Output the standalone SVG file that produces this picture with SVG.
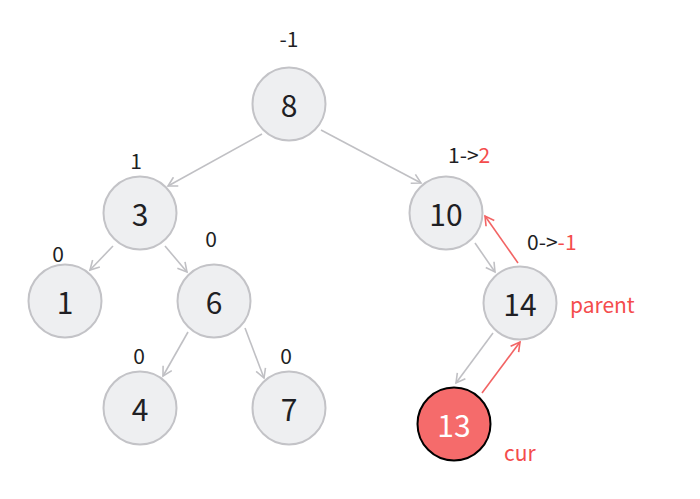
<svg xmlns="http://www.w3.org/2000/svg" width="700" height="499" viewBox="0 0 700 499">
<style>
.n circle{fill:#eeeff1;stroke:#c3c3c7;stroke-width:2}
.n text{font-family:"Noto Sans CJK SC","Noto Sans",sans-serif;font-size:30px;fill:#1f1f24;text-anchor:middle;dominant-baseline:central}
.e{stroke:#c0c0c4;stroke-width:1.6;fill:none;marker-end:url(#ag)}
.r{stroke:#f26464;stroke-width:1.6;fill:none;marker-end:url(#ar)}
.l{font-family:"Noto Sans CJK SC","Noto Sans",sans-serif;font-size:21px;fill:#1f1f24}
.red{fill:#f44c4c}
</style>
<defs>
<marker id="ag" viewBox="0 0 12 12" refX="10" refY="6" markerWidth="12" markerHeight="12" markerUnits="userSpaceOnUse" orient="auto"><path d="M1,1 L10,6 L1,11" fill="none" stroke="#c0c0c4" stroke-width="1.6"/></marker>
<marker id="ar" viewBox="0 0 12 12" refX="10" refY="6" markerWidth="12" markerHeight="12" markerUnits="userSpaceOnUse" orient="auto"><path d="M1,1 L10,6 L1,11" fill="none" stroke="#f26464" stroke-width="1.6"/></marker>
</defs>
<g id="edges">
<line class="e" x1="262" y1="134" x2="168" y2="186"/>
<line class="e" x1="321" y1="130" x2="421" y2="183"/>
<line class="e" x1="113" y1="246" x2="90" y2="270"/>
<line class="e" x1="165" y1="246" x2="187" y2="272"/>
<line class="e" x1="188" y1="332" x2="163" y2="376"/>
<line class="e" x1="245" y1="328" x2="264" y2="378"/>
<line class="e" x1="475" y1="243" x2="495" y2="272"/>
<line class="e" x1="493" y1="333" x2="456" y2="383"/>
<line class="r" x1="482" y1="393" x2="520" y2="342"/>
<line class="r" x1="518" y1="263" x2="485" y2="216"/>
</g>
<g id="n8" class="n"><circle cx="289" cy="104" r="36.5"/><text x="289" y="104">8</text></g>
<g id="n3" class="n"><circle cx="140" cy="213" r="36.5"/><text x="140" y="213">3</text></g>
<g id="n10" class="n"><circle cx="446" cy="213" r="36.5"/><text x="446" y="213">10</text></g>
<g id="n1" class="n"><circle cx="65" cy="301" r="36.5"/><text x="65" y="301">1</text></g>
<g id="n6" class="n"><circle cx="214" cy="301" r="36.5"/><text x="214" y="301">6</text></g>
<g id="n14" class="n"><circle cx="520" cy="303" r="36.5"/><text x="520" y="303">14</text></g>
<g id="n4" class="n"><circle cx="140" cy="408" r="36.5"/><text x="140" y="408">4</text></g>
<g id="n7" class="n"><circle cx="289" cy="408" r="36.5"/><text x="289" y="408">7</text></g>
<g id="n13" class="n"><circle cx="454" cy="424" r="36.5" style="fill:#f56b6b;stroke:#000"/><text x="454" y="424" style="fill:#fff">13</text></g>
<g id="labels">
<text class="l" x="289" y="47" text-anchor="middle">-1</text>
<text class="l" x="136" y="169" text-anchor="middle">1</text>
<text class="l" x="448" y="163">1-&gt;<tspan class="red">2</tspan></text>
<text class="l" x="58" y="262" text-anchor="middle">0</text>
<text class="l" x="211" y="247" text-anchor="middle">0</text>
<text class="l" x="527" y="250">0-&gt;<tspan class="red">-1</tspan></text>
<text class="l red" x="570" y="313">parent</text>
<text class="l" x="139" y="364" text-anchor="middle">0</text>
<text class="l" x="286" y="364" text-anchor="middle">0</text>
<text class="l red" x="504" y="461">cur</text>
</g>
</svg>
